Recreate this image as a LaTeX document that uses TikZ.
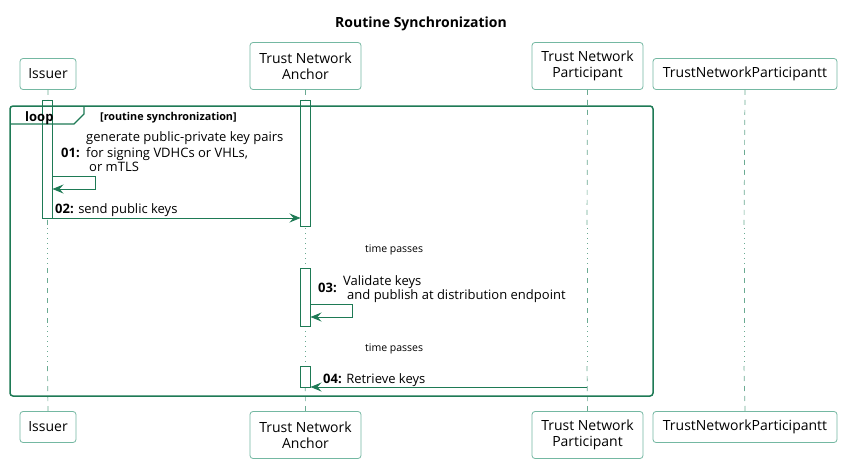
\documentclass[tikz,border=0pt]{standalone}
\usepackage{fontspec}
\setmainfont{Open Sans}
\usetikzlibrary{arrows.meta}
\definecolor{dg}{HTML}{1E7A55}
\definecolor{pb}{HTML}{74B8A2}
\definecolor{ll}{HTML}{6AAA92}
\tikzset{
  part/.style={draw=pb, line width=0.8pt, rounded corners=3pt, fill=white, align=center, inner sep=0pt, font=\fontsize{14}{16}\selectfont},
  life/.style={draw=ll, line width=0.7pt, dash pattern=on 5pt off 5pt},
  delay/.style={draw=ll, line width=0.7pt, dash pattern=on 1pt off 4pt},
  actbar/.style={draw=dg, fill=white, line width=0.8pt},
  msg/.style={draw=dg, line width=0.9pt, -{Stealth[length=11pt,width=9pt,inset=4pt]}},
  mtxt/.style={anchor=base west, inner sep=0pt, font=\fontsize{13}{15}\selectfont},
  small/.style={anchor=base west, inner sep=0pt, font=\fontsize{10.5}{12}\selectfont},
}
\begin{document}
\begin{tikzpicture}[x=1pt,y=-1pt]
\useasboundingbox[fill=white] (0,0) rectangle (842,463);
\node[anchor=base, font=\bfseries\fontsize{14}{15}\selectfont] (title) at (421,27) {Routine Synchronization};
% top participants
\node[part, minimum width=56, minimum height=31] (iT) at (48,74) {Issuer};
\node[part, minimum width=111, minimum height=47] (aT) at (305.5,66) {Trust Network\\Anchor};
\node[part, minimum width=111, minimum height=47] (pT) at (587.5,66) {Trust Network\\Participant};
\node[part, minimum width=184, minimum height=31] (tT) at (745,74) {TrustNetworkParticipantt};
% bottom participants
\node[part, minimum width=56, minimum height=31] (iB) at (48,427) {Issuer};
\node[part, minimum width=111, minimum height=47] (aB) at (305.5,435) {Trust Network\\Anchor};
\node[part, minimum width=111, minimum height=47] (pB) at (587.5,435) {Trust Network\\Participant};
\node[part, minimum width=184, minimum height=31] (tB) at (745,427) {TrustNetworkParticipantt};
% lifelines
\foreach \n/\x in {i/47.5,a/305,p/587,t/744}{
  \coordinate (\n1) at (\x,228); \coordinate (\n2) at (\x,268);
  \coordinate (\n3) at (\x,326); \coordinate (\n4) at (\x,366);
  \draw[life] (\n T.south) -- (\n1);
  \draw[delay] (\n1) -- (\n2);
  \draw[life] (\n2) -- (\n3);
  \draw[delay] (\n3) -- (\n4);
  \draw[life] (\n4) -- (\n B.north);
}
% activation bars
\node[actbar, minimum width=10, minimum height=118, inner sep=0pt, anchor=north] (ia) at (47.5,100) {};
\node[actbar, minimum width=10, minimum height=126, inner sep=0pt, anchor=north] (aa1) at (305.5,100) {};
\node[actbar, minimum width=10, minimum height=58, inner sep=0pt, anchor=north] (aa2) at (305.5,268) {};
\node[actbar, minimum width=10, minimum height=21, inner sep=0pt, anchor=north] (aa3) at (305.5,366) {};
% loop frame
\draw[dg, line width=1.5pt, rounded corners=3pt] (10,106) rectangle (653,396);
\draw[dg, line width=1.2pt] (10,124) -- (74,124) -- (84,114) -- (84,106);
\node[anchor=base west, inner sep=0pt, font=\bfseries\fontsize{13}{15}\selectfont] (loopl) at (25,121) {loop};
\node[anchor=base west, inner sep=0pt, font=\bfseries\fontsize{10.8}{12}\selectfont] (cond) at (100,120) {[routine synchronization]};
% message 01 (self)
\coordinate (s1a) at (52.5,176);
\coordinate (s1b) at (95,176);
\coordinate (s1c) at (95,189);
\coordinate (s1d) at (52.5,189);
\draw[msg] (s1a) -- (s1b) -- (s1c) -- (s1d);
\node[mtxt] (m1a) at (86,141) {generate public-private key pairs};
\node[mtxt] (m1b) at (86,157) {for signing VDHCs or VHLs,};
\node[mtxt] (m1c) at (89,171) {or mTLS};
\node[mtxt, font=\bfseries\fontsize{13}{15}\selectfont] (n1) at (61,157) {01:};
% message 02
\coordinate (m2s) at (52.5,218);
\coordinate (m2e) at (300.5,218);
\draw[msg] (m2s) -- (m2e);
\node[mtxt] (m2) at (55,213) {\textbf{02:} send public keys};
% delay 1
\node[small] (d1) at (365,252) {time passes};
% message 03 (self)
\coordinate (s3a) at (310.5,304);
\coordinate (s3b) at (352,304);
\coordinate (s3c) at (352,317);
\coordinate (s3d) at (310.5,317);
\draw[msg] (s3a) -- (s3b) -- (s3c) -- (s3d);
\node[mtxt, font=\bfseries\fontsize{13}{15}\selectfont] (n3) at (318,292) {03:};
\node[mtxt] (m3a) at (343,285) {Validate keys};
\node[mtxt] (m3b) at (347,299) {and publish at distribution endpoint};
% delay 2
\node[small] (d2) at (365,351) {time passes};
% message 04
\coordinate (m4s) at (587,387);
\coordinate (m4e) at (310.5,387);
\draw[msg] (m4s) -- (m4e);
\node[mtxt] (m4) at (323,383) {\textbf{04:} Retrieve keys};
\end{tikzpicture}
\end{document}
